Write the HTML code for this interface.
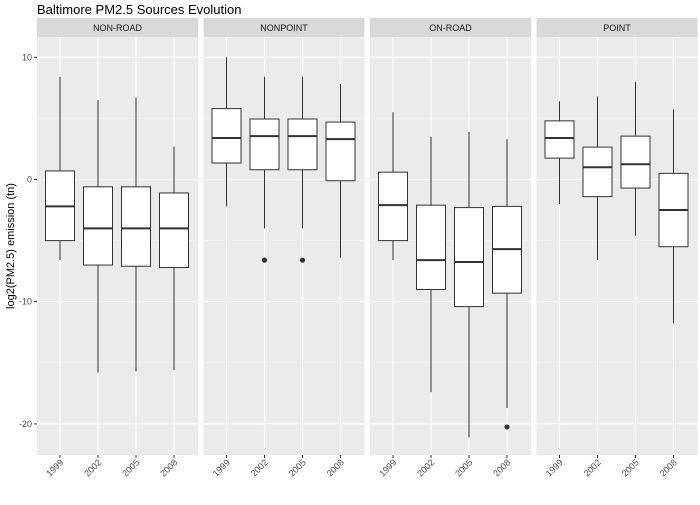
<!DOCTYPE html>
<html><head><meta charset="utf-8"><style>
body{margin:0;background:#fff;width:700px;height:500px;overflow:hidden;font-family:"Liberation Sans",Arial,sans-serif}
</style></head><body>
<svg id="chart" width="700" height="500" xmlns="http://www.w3.org/2000/svg">
<text x="37" y="14" font-size="13" fill="#000">Baltimore PM2.5 Sources Evolution</text>
<text transform="translate(14,246) rotate(-90)" text-anchor="middle" font-size="11" fill="#000">log2(PM2.5) emission (tn)</text>
<g id="plot"></g>
</svg>
<script>
const facets = ["NON-ROAD","NONPOINT","ON-ROAD","POINT"];
const years = ["1999","2002","2005","2008"];
const yTicks = [10,0,-10,-20];
// [lowWhisker, Q1, median, Q3, highWhisker] per facet per year
const nonRoad = [[-6.6,-5.0,-2.2,0.7,8.4],[-15.8,-7.0,-4.0,-0.6,6.5],[-15.7,-7.1,-4.0,-0.6,6.7],[-15.6,-7.2,-4.0,-1.1,2.7]];
const nonPoint = [[-2.2,1.35,3.4,5.8,10.0],[-4.0,0.8,3.55,4.95,8.4],[-4.0,0.8,3.55,4.95,8.4],[-6.4,-0.1,3.3,4.7,7.8]];
const onRoad = [[-6.6,-5.0,-2.1,0.6,5.5],[-17.4,-9.0,-6.6,-2.1,3.5],[-21.1,-10.4,-6.75,-2.3,3.9],[-18.7,-9.3,-5.7,-2.2,3.3]];
const point = [[-2.0,1.75,3.4,4.8,6.4],[-6.6,-1.4,1.0,2.65,6.8],[-4.6,-0.7,1.25,3.55,8.0],[-11.75,-5.5,-2.5,0.5,5.75]];
const outliers = [[],[[1,-6.6],[2,-6.6]],[[3,-20.25]],[]];
const seriesData = [nonRoad, nonPoint, onRoad, point];

const NS="http://www.w3.org/2000/svg";
const g=document.getElementById('plot');
function el(t,a,p){const e=document.createElementNS(NS,t);for(const k in a)e.setAttribute(k,a[k]);(p||g).appendChild(e);return e;}
const plotTop=37,plotBottom=455,pw=161,gap=5.5,left0=37;
function y(v){return 179.5-v*12.22;}
function px(i){return left0+i*(pw+gap);}
function x(i,j){return px(i)+23+j*38;}

facets.forEach((f,i)=>{
  const x0=px(i);
  const strip=el('rect',{x:x0,y:18,width:pw,height:19,fill:'#d9d9d9'});
  
  
  const st=el('text',{x:x0+pw/2,y:31,'text-anchor':'middle','font-size':'9','fill':'#1a1a1a'});
  st.textContent=f;
  
  
  const bg=el('rect',{x:x0,y:plotTop,width:pw,height:plotBottom-plotTop,fill:'#ebebeb'});
  
  
  [5,-5,-15].forEach(v=>el('line',{x1:x0,x2:x0+pw,y1:y(v),y2:y(v),stroke:'#f5f5f5','stroke-width':0.6}));
  yTicks.forEach(v=>el('line',{x1:x0,x2:x0+pw,y1:y(v),y2:y(v),stroke:'#fff','stroke-width':1.1}));
  years.forEach((yr,j)=>{
    const cx=x(i,j);
    el('line',{x1:cx,x2:cx,y1:plotTop,y2:plotBottom,stroke:'#fff','stroke-width':1.1});
    el('line',{x1:cx,x2:cx,y1:plotBottom,y2:plotBottom+3,stroke:'#333','stroke-width':1});
    const t=el('text',{transform:`translate(${cx+4},${plotBottom+8}) rotate(-45)`,'text-anchor':'end','font-size':'9','fill':'#4d4d4d'});
    t.textContent=yr;
    
    
  });
  seriesData[i].forEach((d,j)=>{
    const cx=x(i,j);
    const bx=el('g',{});
    
    
    el('line',{x1:cx,x2:cx,y1:y(d[4]),y2:y(d[3]),stroke:'#333','stroke-width':1},bx);
    el('line',{x1:cx,x2:cx,y1:y(d[1]),y2:y(d[0]),stroke:'#333','stroke-width':1},bx);
    el('rect',{x:cx-14.5,y:y(d[3]),width:29,height:y(d[1])-y(d[3]),fill:'#fff',stroke:'#333','stroke-width':1},bx);
    el('line',{x1:cx-14.5,x2:cx+14.5,y1:y(d[2]),y2:y(d[2]),stroke:'#333','stroke-width':2},bx);
  });
  outliers[i].forEach(o=>{
    const c=el('circle',{cx:x(i,o[0]),cy:y(o[1]),r:2.6,fill:'#333'});
    
    
  });
});
yTicks.forEach(v=>{
  el('line',{x1:34,x2:37,y1:y(v),y2:y(v),stroke:'#333','stroke-width':1});
  const t=el('text',{x:32,y:y(v)+3,'text-anchor':'end','font-size':'9','fill':'#4d4d4d'});
  t.textContent=v;
  
  
});
</script>
</body></html>
